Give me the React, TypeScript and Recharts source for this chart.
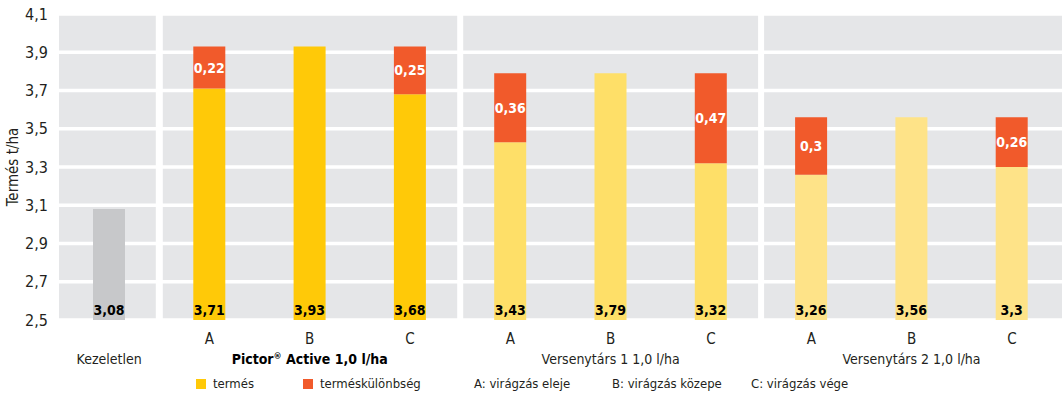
import { BarChart, Bar, XAxis, YAxis, CartesianGrid, ReferenceLine, LabelList, Cell } from "recharts";

// category keys (unique), letter shown under each bar, and the group name row
const categories = ["k", "p1A", "p1B", "p1C", "v1A", "v1B", "v1C", "v2A", "v2B", "v2C"];
const letters = ["", "A", "B", "C", "A", "B", "C", "A", "B", "C"];
const groupOf = ["k", "p", "p", "p", "v1", "v1", "v1", "v2", "v2", "v2"];
const groupLabels: Record<string, string> = {
  k: "Kezeletlen",
  p: "Pictor® Active 1,0 l/ha",
  v1: "Versenytárs 1 1,0 l/ha",
  v2: "Versenytárs 2 1,0 l/ha",
};
const groupCenters = ["k", "p1B", "v1B", "v2B"];

// yields (termés) and the difference to the best application (terméskülönbség)
const termes = [3.08, 3.71, 3.93, 3.68, 3.43, 3.79, 3.32, 3.26, 3.56, 3.3];
const kulonbseg = [null, 0.22, null, 0.25, 0.36, null, 0.47, 0.3, null, 0.26];

const yTicks = [2.5, 2.7, 2.9, 3.1, 3.3, 3.5, 3.7, 3.9, 4.1];

const GROUP_COLORS: Record<string, string> = { k: "#c7c8ca", p: "#ffc908", v1: "#fedf68", v2: "#fee388" };
const ORANGE = "#f15a2b";
const FONT = "'Liberation Sans Narrow', 'DejaVu Sans Condensed', Roboto, sans-serif";

const data = categories.map((c, i) => ({
  name: c,
  termes: termes[i],
  diff: kulonbseg[i],
}));

const comma = (v: any) => (v == null ? "" : String(v).replace(".", ","));

function XTick(props: any) {
  const { x, y, payload } = props;
  const idx = categories.indexOf(payload.value);
  const g = groupOf[idx];
  const showGroup = groupCenters.includes(payload.value);
  return (
    <g>
      <text x={x} y={y + 22} textAnchor="middle" fill="#231f20" fontSize={15} fontFamily={FONT}>
        {letters[idx]}
      </text>
      {showGroup && g === "p" && (
        <text x={x} y={y + 42} textAnchor="middle" fill="#000" fontSize={14} fontWeight="bold" fontFamily={FONT}>
          Pictor<tspan fontSize={9} dy={-5}>®</tspan>
          <tspan dy={5}> Active 1,0 l/ha</tspan>
        </text>
      )}
      {showGroup && g !== "p" && (
        <text x={x} y={y + 42} textAnchor="middle" fill="#231f20" fontSize={14} fontFamily={FONT}>
          {groupLabels[g]}
        </text>
      )}
    </g>
  );
}

function LegendBox() {
  const item = (left: number, color: string | null, text: string) => (
    <div style={{ position: "absolute", left, top: 0, display: "flex", alignItems: "center", whiteSpace: "nowrap" }}>
      {color && <span style={{ width: 10, height: 10, background: color, display: "inline-block", marginRight: 7 }} />}
      <span>{text}</span>
    </div>
  );
  return (
    <div style={{ position: "absolute", left: 0, top: 376, width: 1062, height: 18, fontFamily: FONT, fontSize: 13, color: "#231f20" }}>
      {item(196, GROUP_COLORS.p, "termés")}
      {item(303, ORANGE, "terméskülönbség")}
      {item(474, null, "A: virágzás eleje")}
      {item(612, null, "B: virágzás közepe")}
      {item(751, null, "C: virágzás vége")}
    </div>
  );
}

export default function App() {
  return (
    <div style={{ position: "absolute", left: 0, top: 0, width: 1062, height: 396, background: "#fff" }}>
      <BarChart width={1062} height={396} data={data} margin={{ top: 14, right: 0, left: 0, bottom: 0 }} barCategoryGap={0}>
        <CartesianGrid vertical={false} stroke="#fff" strokeWidth={3.5} fill="#e5e6e8" fillOpacity={1} />
        <XAxis
          dataKey="name"
          height={76}
          axisLine={false}
          tickLine={false}
          tickSize={0}
          interval={0}
          tick={<XTick />}
        />
        <YAxis
          width={59}
          domain={[2.5, 4.1]}
          ticks={yTicks}
          allowDataOverflow
          axisLine={false}
          tickLine={false}
          tickSize={0}
          tickMargin={11}
          tickFormatter={comma}
          tick={{ fill: "#231f20", fontSize: 16, fontFamily: FONT }}
          label={{
            value: "Termés t/ha",
            angle: -90,
            position: "insideLeft",
            offset: 13,
            style: { textAnchor: "middle", fill: "#231f20", fontSize: 15, fontFamily: FONT },
          }}
        />
        <ReferenceLine x="p1A" position="start" stroke="#fff" strokeWidth={7} />
        <ReferenceLine x="v1A" position="start" stroke="#fff" strokeWidth={6} />
        <ReferenceLine x="v2A" position="start" stroke="#fff" strokeWidth={6} />
        <Bar dataKey="termes" stackId="a" barSize={32} isAnimationActive={false}>
          {data.map((d, i) => (
            <Cell key={d.name} fill={GROUP_COLORS[groupOf[i]]} />
          ))}
          <LabelList
            dataKey="termes"
            position="insideBottom"
            offset={5}
            formatter={comma}
            style={{ fill: "#000", fontSize: 14, fontWeight: "bold", fontFamily: FONT }}
          />
        </Bar>
        <Bar dataKey="diff" stackId="a" barSize={32} fill={ORANGE} isAnimationActive={false}>
          <LabelList
            dataKey="diff"
            position="center"
            formatter={comma}
            style={{ fill: "#fff", fontSize: 14, fontWeight: "bold", fontFamily: FONT }}
          />
        </Bar>
      </BarChart>
      <LegendBox />
    </div>
  );
}
